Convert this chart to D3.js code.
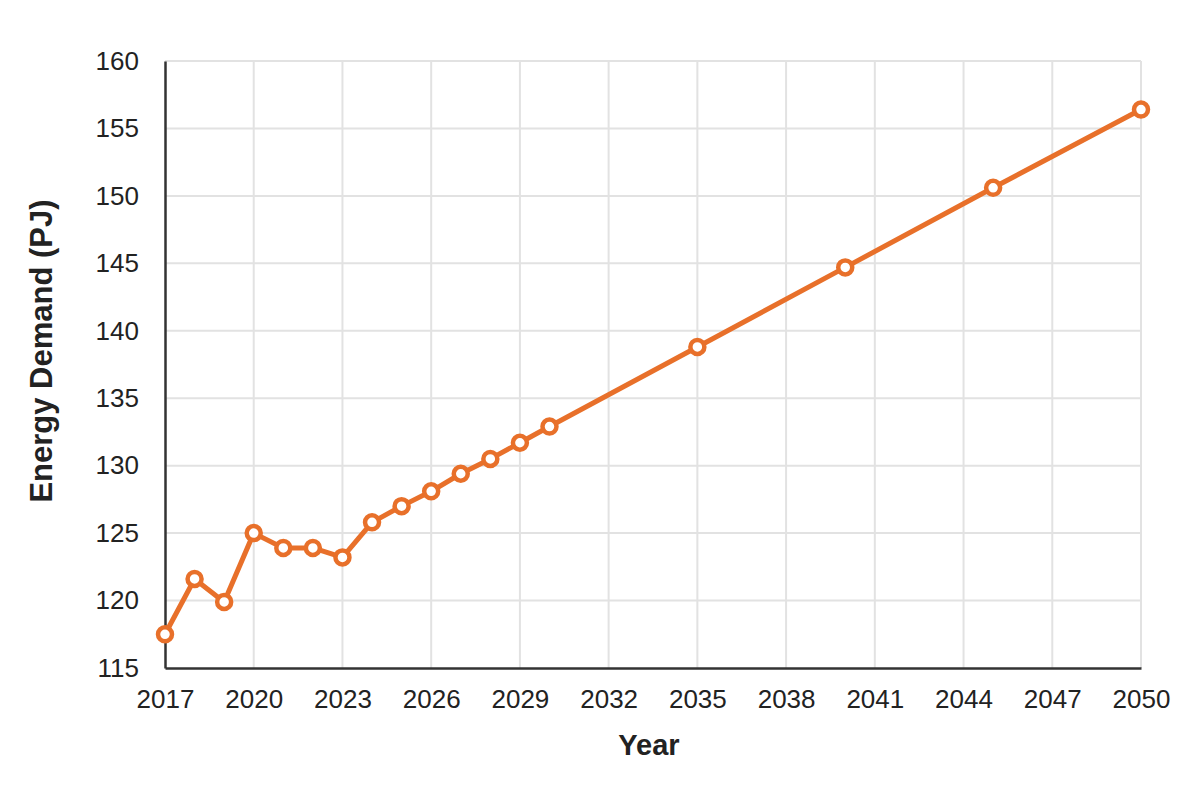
<html>
<head>
<meta charset="utf-8">
<title>Energy Demand</title>
<script src="https://d3js.org/d3.v7.min.js"></script>
<style>
  body { margin: 0; background: #fff; }
  text { font-family: "Liberation Sans", Arial, sans-serif; fill: #222; }
</style>
</head>
<body>
<svg width="1200" height="791"></svg>
<script>
var years = [2017, 2018, 2019, 2020, 2021, 2022, 2023, 2024, 2025, 2026, 2027, 2028, 2029, 2030, 2035, 2040, 2045, 2050];
var demand = [117.5, 121.6, 119.9, 125.0, 123.9, 123.9, 123.2, 125.8, 127.0, 128.1, 129.4, 130.5, 131.7, 132.9, 138.8, 144.7, 150.6, 156.4];
var xTicks = [2017, 2020, 2023, 2026, 2029, 2032, 2035, 2038, 2041, 2044, 2047, 2050];
var yTicks = [115, 120, 125, 130, 135, 140, 145, 150, 155, 160];

var svg = d3.select("svg"),
    margin = {top: 61, right: 59, bottom: 123, left: 165},
    width = +svg.attr("width") - margin.left - margin.right,
    height = +svg.attr("height") - margin.top - margin.bottom,
    g = svg.append("g").attr("transform", `translate(${margin.left},${margin.top})`);

var x = d3.scaleLinear().domain([2017, 2050]).range([0, width]);
var y = d3.scaleLinear().domain([115, 160]).range([height, 0]);

// grid
g.append("g").selectAll("line").data(xTicks.slice(1)).enter().append("line")
  .attr("x1", d => x(d)).attr("x2", d => x(d))
  .attr("y1", 0).attr("y2", height)
  .attr("stroke", "#e2e2e2").attr("stroke-width", 2);
g.append("g").selectAll("line").data(yTicks.slice(1)).enter().append("line")
  .attr("x1", 0).attr("x2", width)
  .attr("y1", d => y(d)).attr("y2", d => y(d))
  .attr("stroke", "#e2e2e2").attr("stroke-width", 2);

// axes
var xAxis = g.append("g").attr("transform", `translate(0,${height})`)
  .call(d3.axisBottom(x).tickValues(xTicks).tickFormat(d3.format("d")).tickSize(0).tickPadding(22));
var yAxis = g.append("g")
  .call(d3.axisLeft(y).tickValues(yTicks).tickSize(0).tickPadding(26));
[xAxis, yAxis].forEach(function(a) {
  a.select(".domain").attr("stroke", "#333").attr("stroke-width", 2.5);
  a.selectAll("text").style("font-size", "26px").attr("fill", "#222");
});

// line
var line = d3.line().x((d, i) => x(years[i])).y(d => y(d));
g.append("path").datum(demand)
  .attr("d", line)
  .attr("fill", "none")
  .attr("stroke", "#e8702a")
  .attr("stroke-width", 5)
  .attr("stroke-linejoin", "round");

g.selectAll(".pt").data(demand).enter().append("circle")
  .attr("class", "pt")
  .attr("cx", (d, i) => x(years[i]))
  .attr("cy", d => y(d))
  .attr("r", 7)
  .attr("fill", "#fff")
  .attr("stroke", "#e8702a")
  .attr("stroke-width", 4.5);

// titles
svg.append("text")
  .attr("x", 649).attr("y", 755)
  .attr("text-anchor", "middle")
  .style("font-size", "29px").style("font-weight", "bold")
  .text("Year");
svg.append("text")
  .attr("transform", "translate(52,351) rotate(-90)")
  .attr("text-anchor", "middle")
  .style("font-size", "31px").style("font-weight", "bold")
  .text("Energy Demand (PJ)");
</script>
</body>
</html>
